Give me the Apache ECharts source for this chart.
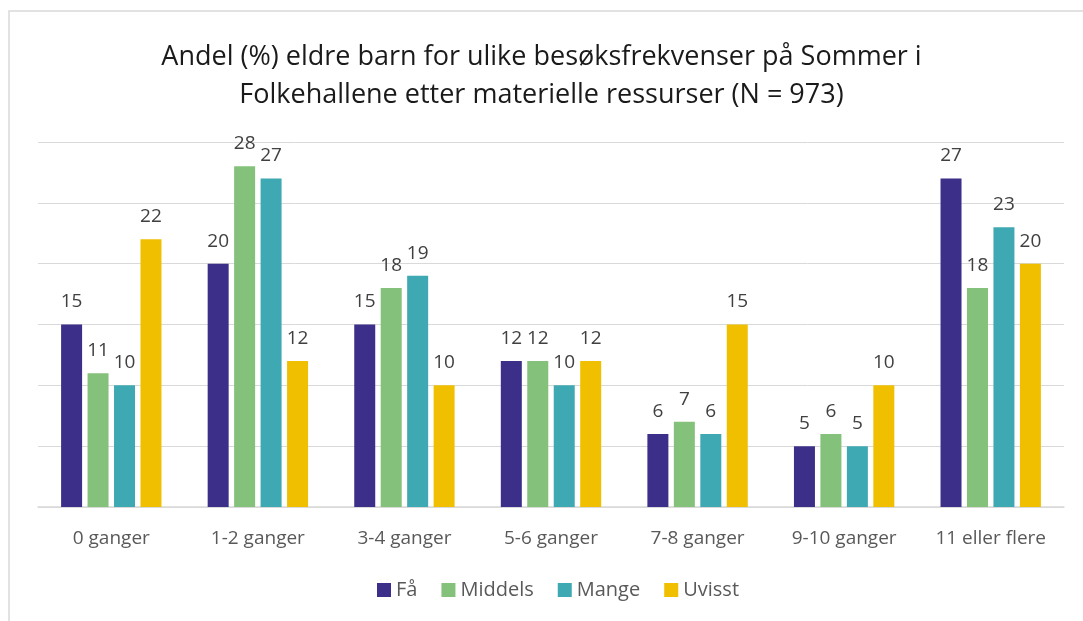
<!DOCTYPE html>
<html>
<head>
<meta charset="utf-8">
<script src="https://cdn.jsdelivr.net/npm/echarts@6/dist/echarts.min.js"></script>
<style>
  html, body { margin: 0; padding: 0; background: #fff; }
  #chart { width: 1083px; height: 621px; }
</style>
</head>
<body>
<div id="chart"></div>
<script>
// Data
var categories = ['0 ganger', '1-2 ganger', '3-4 ganger', '5-6 ganger', '7-8 ganger', '9-10 ganger', '11 eller flere'];
var faa = [15, 20, 15, 12, 6, 5, 27];
var middels = [11, 28, 18, 12, 7, 6, 18];
var mange = [10, 27, 19, 10, 6, 5, 23];
var uvisst = [22, 12, 10, 12, 15, 10, 20];

var seriesNames = ['Få', 'Middels', 'Mange', 'Uvisst'];
var seriesData = [faa, middels, mange, uvisst];
var colors = ['#3c2f8a', '#84c17a', '#3fa9b3', '#f0c000'];

document.addEventListener('DOMContentLoaded', function() {
  var chart = echarts.init(document.getElementById('chart'), null, {renderer: 'canvas'});
  var font = 'Open Sans';

  var series = seriesData.map(function(values, i) {
    return {
      name: seriesNames[i],
      type: 'bar',
      data: values,
      barWidth: 21,
      barGap: '26%',
      itemStyle: {color: colors[i]},
      label: {
        show: true,
        position: 'top',
        distance: 13,
        color: '#404040',
        fontSize: 19,
        fontFamily: font
      }
    };
  });

  var option = {
    animation: false,
    color: colors,
    title: {
      text: 'Andel (%) eldre barn for ulike besøksfrekvenser på Sommer i\nFolkehallene etter materielle ressurser (N = 973)',
      left: 'center',
      top: 33,
      textStyle: {
        fontFamily: font,
        fontSize: 27,
        fontWeight: 'normal',
        color: '#1a1a1a',
        lineHeight: 38
      }
    },
    legend: {
      bottom: 16,
      left: 372,
      itemWidth: 14,
      itemHeight: 14,
      itemGap: 24,
      icon: 'rect',
      textStyle: {fontFamily: font, fontSize: 20, color: '#595959'}
    },
    grid: {left: 38, right: 19, top: 142, bottom: 114},
    xAxis: {
      type: 'category',
      data: categories,
      axisTick: {show: false},
      axisLine: {lineStyle: {color: '#d9d9d9', width: 1.5}},
      axisLabel: {fontFamily: font, fontSize: 19, color: '#595959', margin: 22, interval: 0}
    },
    yAxis: {
      type: 'value',
      min: 0,
      max: 30,
      interval: 5,
      axisLabel: {show: false},
      axisLine: {show: false},
      axisTick: {show: false},
      splitLine: {lineStyle: {color: '#d9d9d9', width: 1}}
    },
    graphic: [{
      type: 'rect',
      shape: {x: 9, y: 11, width: 1100, height: 700},
      style: {fill: 'none', stroke: '#d9d9d9', lineWidth: 1.5},
      silent: true
    }],
    series: series
  };

  chart.setOption(option);
});
</script>
</body>
</html>
